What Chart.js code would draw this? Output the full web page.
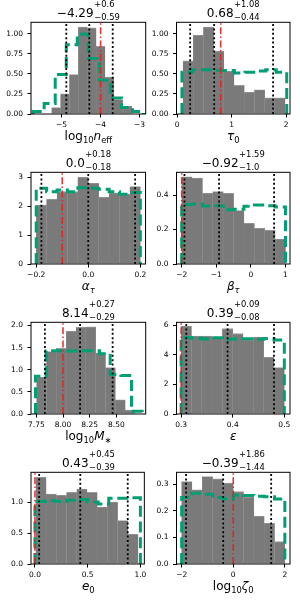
<!DOCTYPE html>
<html>
<head>
<meta charset="utf-8">
<script src="https://cdn.jsdelivr.net/npm/chart.js@4.4.0/dist/chart.umd.min.js"></script>
<style>
  html, body { margin: 0; padding: 0; background: #fff; }
  body { width: 300px; height: 600px; position: relative; overflow: hidden; font-family: "DejaVu Sans", sans-serif; color: #000; }
  .cell { position: absolute; width: 150px; height: 150px; }
  .ttl { position: absolute; display: flex; align-items: flex-start; transform: translateX(-50%); white-space: nowrap; }
  .ttl .m { font-size: 12px; line-height: 12px; margin-top: 6.35px; }
  .ttl .ss { display: flex; flex-direction: column; font-size: 8.4px; line-height: 8.4px; margin-left: 0.5px; }
  .ttl .sb { margin-top: 4.3px; }
  .xl { position: absolute; transform: translateX(-50%); font-size: 12px; line-height: 12px; white-space: nowrap; }
  .xl sub { font-size: 8.4px; line-height: 0; vertical-align: -3px; }
</style>
</head>
<body>
<script>
// ---- data ----
// log10 n_eff
const neffPostEdges = [-5.254, -5.026, -4.798, -4.570, -4.343, -4.115, -3.887, -3.659, -3.431, -3.203];
const neffPost = [0.08, 0.25, 0.49, 1.08, 1.07, 0.84, 0.46, 0.18, 0.10];
const neffPriorEdges = [-5.73, -5.447, -5.164, -4.881, -4.598, -4.315, -4.032, -3.749, -3.466, -3.183, -2.90];
const neffPrior = [0.03, 0.13, 0.49, 0.86, 0.99, 0.69, 0.42, 0.20, 0.08, 0.03];
const neffQuant = [-4.88, -4.29, -3.69];
const neffTrue = -4.0;
const neffXTicks = [-5, -4, -3];
const neffYTicks = [0, 0.25, 0.5, 0.75, 1.0];

// tau_0
const tauPostEdges = [0.11, 0.297, 0.484, 0.671, 0.858, 1.045, 1.232, 1.419, 1.606, 1.793, 1.98];
const tauPost = [0.66, 0.98, 1.08, 0.78, 0.53, 0.355, 0.27, 0.30, 0.20, 0.20];
const tauPriorEdges = [0.09, 0.282, 0.474, 0.666, 0.858, 1.05, 1.242, 1.434, 1.626, 1.818, 2.01];
const tauPrior = [0.52, 0.55, 0.55, 0.54, 0.54, 0.51, 0.52, 0.535, 0.55, 0.52];
const tauQuant = [0.24, 0.68, 1.76];
const tauTrue = 0.8;
const tauXTicks = [0, 1, 2];
const tauYTicks = [0, 0.25, 0.5, 0.75, 1.0];

// alpha_tau
const alphaEdges = [-0.2, -0.16, -0.12, -0.08, -0.04, 0.0, 0.04, 0.08, 0.12, 0.16, 0.2];
const alphaPost = [2.04, 2.24, 2.5, 2.5, 3.0, 2.79, 2.31, 2.45, 2.41, 2.68];
const alphaPrior = [2.62, 2.5, 2.56, 2.5, 2.64, 2.62, 2.58, 2.5, 2.41, 2.47];
const alphaQuant = [-0.18, 0.0, 0.18];
const alphaTrue = -0.1;
const alphaXTicks = [-0.2, 0.0, 0.2];
const alphaYTicks = [0, 1, 2, 3];

// beta_tau
const betaEdges = [-2.0, -1.7, -1.4, -1.1, -0.8, -0.5, -0.2, 0.1, 0.4, 0.7, 1.0];
const betaPost = [0.506, 0.499, 0.41, 0.42, 0.41, 0.31, 0.236, 0.207, 0.195, 0.145];
const betaPrior = [0.345, 0.348, 0.337, 0.338, 0.315, 0.318, 0.335, 0.342, 0.338, 0.33];
const betaQuant = [-1.92, -0.92, 0.67];
const betaTrue = -2.0;
const betaXTicks = [-2, -1, 0, 1];
const betaYTicks = [0, 0.2, 0.4];

// log10 M*
const mstarPostEdges = [7.753, 7.845, 7.937, 8.030, 8.122, 8.214, 8.306, 8.398, 8.491, 8.583, 8.675];
const mstarPost = [0.83, 1.41, 1.48, 1.87, 1.96, 1.97, 1.38, 1.05, 0.32, 0.09];
const mstarPriorEdges = [7.742, 7.842, 7.942, 8.042, 8.142, 8.242, 8.342, 8.442, 8.542, 8.642, 8.742];
const mstarPrior = [0.85, 1.43, 1.43, 1.42, 1.43, 1.43, 1.36, 0.89, 0.87, 0.06];
const mstarQuant = [7.83, 8.16, 8.465];
const mstarTrue = 8.0;
const mstarXTicks = [7.75, 8.0, 8.25, 8.5];
const mstarYTicks = [0, 0.5, 1.0, 1.5, 2.0];

// epsilon
const epsEdges = [0.30, 0.32, 0.34, 0.36, 0.38, 0.40, 0.42, 0.44, 0.46, 0.48, 0.50];
const epsPost = [5.95, 5.27, 5.27, 5.17, 5.77, 5.43, 5.0, 5.2, 3.83, 3.14];
const epsPrior = [5.18, 5.12, 5.07, 5.15, 5.05, 5.07, 5.08, 5.06, 5.1, 5.0];
const epsQuant = [0.31, 0.39, 0.48];
const epsTrue = 0.3;
const epsXTicks = [0.3, 0.4, 0.5];
const epsYTicks = [0, 2, 4, 6];

// e_0
const eccPostEdges = [0.009, 0.106, 0.203, 0.300, 0.397, 0.494, 0.590, 0.687, 0.784, 0.881, 0.978];
const eccPost = [1.40, 1.13, 1.11, 1.155, 1.21, 1.155, 0.92, 1.0, 0.70, 0.48];
const eccPriorEdges = [0.0, 0.1, 0.2, 0.3, 0.4, 0.5, 0.6, 0.7, 0.8, 0.9, 1.0];
const eccPrior = [1.01, 1.02, 1.01, 1.03, 1.04, 1.0, 0.97, 1.06, 1.06, 1.07];
const eccQuant = [0.04, 0.43, 0.88];
const eccTrue = 0.0;
const eccXTicks = [0.0, 0.5, 1.0];
const eccYTicks = [0, 0.5, 1.0];

// log10 zeta_0
const zetaEdges = [-2.0, -1.6, -1.2, -0.8, -0.4, 0.0, 0.4, 0.8, 1.2, 1.6, 2.0];
const zetaPost = [0.31, 0.279, 0.329, 0.32, 0.304, 0.272, 0.251, 0.18, 0.153, 0.084];
const zetaPrior = [0.25, 0.266, 0.262, 0.25, 0.245, 0.26, 0.258, 0.255, 0.253, 0.245];
const zetaQuant = [-1.83, -0.39, 1.47];
const zetaTrue = 0.0;
const zetaXTicks = [-2, 0, 2];
const zetaYTicks = [0, 0.1, 0.2, 0.3];

// ---- panels: which arrays go where, plus axis ranges ----
const panels = [
  { col: 0, row: 0, xMin: -5.785, xMax: -2.844, yMax: 1.14, xDec: 0, yDec: 2,
    postEdges: neffPostEdges, post: neffPost, priorEdges: neffPriorEdges, prior: neffPrior,
    quant: neffQuant, truth: neffTrue, xTicks: neffXTicks, yTicks: neffYTicks,
    title: ['\u22124.29', '+0.6', '\u22120.59'], xlabel: 'log<sub>10</sub><i>n</i><sub>eff</sub>' },
  { col: 1, row: 0, xMin: -0.01, xMax: 2.07, yMax: 1.14, xDec: 0, yDec: 2,
    postEdges: tauPostEdges, post: tauPost, priorEdges: tauPriorEdges, prior: tauPrior,
    quant: tauQuant, truth: tauTrue, xTicks: tauXTicks, yTicks: tauYTicks,
    title: ['0.68', '+1.08', '\u22120.44'], xlabel: '<i>\u03c4</i><sub>0</sub>' },
  { col: 0, row: 1, xMin: -0.22, xMax: 0.22, yMax: 3.17, xDec: 1, yDec: 0,
    postEdges: alphaEdges, post: alphaPost, priorEdges: alphaEdges, prior: alphaPrior,
    quant: alphaQuant, truth: alphaTrue, xTicks: alphaXTicks, yTicks: alphaYTicks,
    title: ['0.0', '+0.18', '\u22120.18'], xlabel: '<i>\u03b1</i><sub><i>\u03c4</i></sub>' },
  { col: 1, row: 1, xMin: -2.15, xMax: 1.13, yMax: 0.532, xDec: 0, yDec: 1,
    postEdges: betaEdges, post: betaPost, priorEdges: betaEdges, prior: betaPrior,
    quant: betaQuant, truth: betaTrue, xTicks: betaXTicks, yTicks: betaYTicks,
    title: ['\u22120.92', '+1.59', '\u22121.0'], xlabel: '<i>\u03b2</i><sub><i>\u03c4</i></sub>' },
  { col: 0, row: 2, xMin: 7.70, xMax: 8.775, yMax: 2.07, xDec: 2, yDec: 1,
    postEdges: mstarPostEdges, post: mstarPost, priorEdges: mstarPriorEdges, prior: mstarPrior,
    quant: mstarQuant, truth: mstarTrue, xTicks: mstarXTicks, yTicks: mstarYTicks,
    title: ['8.14', '+0.27', '\u22120.29'], xlabel: 'log<sub>10</sub><i>M</i><sub>\u2217</sub>' },
  { col: 1, row: 2, xMin: 0.291, xMax: 0.511, yMax: 6.2, xDec: 1, yDec: 0,
    postEdges: epsEdges, post: epsPost, priorEdges: epsEdges, prior: epsPrior,
    quant: epsQuant, truth: epsTrue, xTicks: epsXTicks, yTicks: epsYTicks,
    title: ['0.39', '+0.09', '\u22120.08'], xlabel: '<i>\u03b5</i>' },
  { col: 0, row: 3, xMin: -0.0375, xMax: 1.0375, yMax: 1.48, xDec: 1, yDec: 1,
    postEdges: eccPostEdges, post: eccPost, priorEdges: eccPriorEdges, prior: eccPrior,
    quant: eccQuant, truth: eccTrue, xTicks: eccXTicks, yTicks: eccYTicks,
    title: ['0.43', '+0.45', '\u22120.39'], xlabel: '<i>e</i><sub>0</sub>' },
  { col: 1, row: 3, xMin: -2.2, xMax: 2.2, yMax: 0.345, xDec: 0, yDec: 1,
    postEdges: zetaEdges, post: zetaPost, priorEdges: zetaEdges, prior: zetaPrior,
    quant: zetaQuant, truth: zetaTrue, xTicks: zetaXTicks, yTicks: zetaYTicks,
    title: ['\u22120.39', '+1.86', '\u22121.44'], xlabel: 'log<sub>10</sub><i>\u03b6</i><sub>0</sub>' }
];

// plot box geometry (px) per column / row
const colBox = [{ left: 31, right: 145.7 }, { left: 176.5, right: 290 }];
const rowTop = 22.3, rowBottom = 114, rowStep = 150;

const fmt = (v, d) => v.toFixed(d).replace('-', '\u2212');

// draws the four spines on top of everything
const spines = {
  id: 'spines',
  afterDraw(chart) {
    const a = chart.chartArea, c = chart.ctx;
    c.save();
    c.strokeStyle = '#000';
    c.lineWidth = 1;
    c.strokeRect(a.left, a.top, a.right - a.left, a.bottom - a.top);
    c.restore();
  }
};

function vline(x, yMax, color, dash, width, order) {
  return {
    type: 'line', data: [{ x: x, y: 0 }, { x: x, y: yMax }],
    borderColor: color, borderWidth: width, borderDash: dash,
    pointRadius: 0, clip: 0, order: order
  };
}

panels.forEach(function(p) {
  const cellLeft = p.col * 150, cellTop = p.row * 150;
  const box = colBox[p.col];
  const top = rowTop + p.row * rowStep, bottom = rowBottom + p.row * rowStep;

  const cell = document.createElement('div');
  cell.className = 'cell';
  cell.style.left = cellLeft + 'px';
  cell.style.top = cellTop + 'px';
  const canvas = document.createElement('canvas');
  canvas.width = 150; canvas.height = 150;
  cell.appendChild(canvas);
  document.body.appendChild(cell);

  // histogram bars (centres of the bins)
  const barData = p.post.map((h, i) => ({ x: (p.postEdges[i] + p.postEdges[i + 1]) / 2, y: h }));
  // step outline through the bin edges
  const stepData = [{ x: p.priorEdges[0], y: 0 }];
  p.prior.forEach((h, i) => stepData.push({ x: p.priorEdges[i], y: h }));
  stepData.push({ x: p.priorEdges[p.priorEdges.length - 1], y: 0 });

  const datasets = [
    { type: 'bar', data: barData, backgroundColor: '#7a7a7a', borderColor: '#9a9a9a',
      borderWidth: { top: 0.8, left: 0.3, right: 0.3, bottom: 0 }, borderSkipped: false,
      barPercentage: 1, categoryPercentage: 1, clip: 0, order: 5 },
    { type: 'line', data: stepData, stepped: 'before', borderColor: '#009e73', borderWidth: 3,
      borderDash: [11, 4.8], pointRadius: 0, clip: 0, order: 4 },
    vline(p.truth, p.yMax, 'rgba(235,30,30,0.9)', [7, 2.4, 1.5, 2.4], 1.6, 3)
  ];
  p.quant.forEach(q => datasets.push(vline(q, p.yMax, '#000', [2, 2.4], 1.8, 1)));

  new Chart(canvas.getContext('2d'), {
    type: 'line',
    data: { datasets: datasets },
    plugins: [spines],
    options: {
      responsive: false,
      animation: false,
      devicePixelRatio: 1,
      events: [],
      layout: { padding: { left: 0, bottom: 0, top: top - cellTop, right: cellLeft + 150 - box.right } },
      plugins: { legend: { display: false }, tooltip: { enabled: false }, title: { display: false } },
      scales: {
        x: {
          type: 'linear', min: p.xMin, max: p.xMax, offset: false,
          border: { display: false },
          grid: { display: true, drawOnChartArea: false, drawTicks: true, tickLength: 3.5, tickColor: '#000', lineWidth: 1, offset: false },
          ticks: { color: '#000', font: { family: 'DejaVu Sans', size: 7.5 }, padding: 3.5, maxRotation: 0, autoSkip: false,
                   callback: v => fmt(v, p.xDec) },
          afterBuildTicks: s => { s.ticks = p.xTicks.map(v => ({ value: v })); },
          afterFit: s => { s.height = cellTop + 150 - bottom; }
        },
        y: {
          type: 'linear', min: 0, max: p.yMax,
          border: { display: false },
          grid: { display: true, drawOnChartArea: false, drawTicks: true, tickLength: 3.5, tickColor: '#000', lineWidth: 1 },
          ticks: { color: '#000', font: { family: 'DejaVu Sans', size: 7.5 }, padding: 4.5, autoSkip: false,
                   callback: v => fmt(v, p.yDec) },
          afterBuildTicks: s => { s.ticks = p.yTicks.map(v => ({ value: v })); },
          afterFit: s => { s.width = box.left - cellLeft; }
        }
      }
    }
  });

  // title: value with upper/lower errors
  const ttl = document.createElement('div');
  ttl.className = 'ttl';
  ttl.style.left = ((box.left + box.right) / 2) + 'px';
  ttl.style.top = (0.2 + p.row * rowStep) + 'px';
  ttl.innerHTML = '<span class="m">' + p.title[0] + '</span><span class="ss"><span class="sp">' +
    p.title[1] + '</span><span class="sb">' + p.title[2] + '</span></span>';
  document.body.appendChild(ttl);

  // x axis label
  const xl = document.createElement('div');
  xl.className = 'xl';
  xl.style.left = ((box.left + box.right) / 2) + 'px';
  xl.style.top = (130.4 + p.row * rowStep) + 'px';
  xl.innerHTML = p.xlabel;
  document.body.appendChild(xl);
});
</script>
</body>
</html>
